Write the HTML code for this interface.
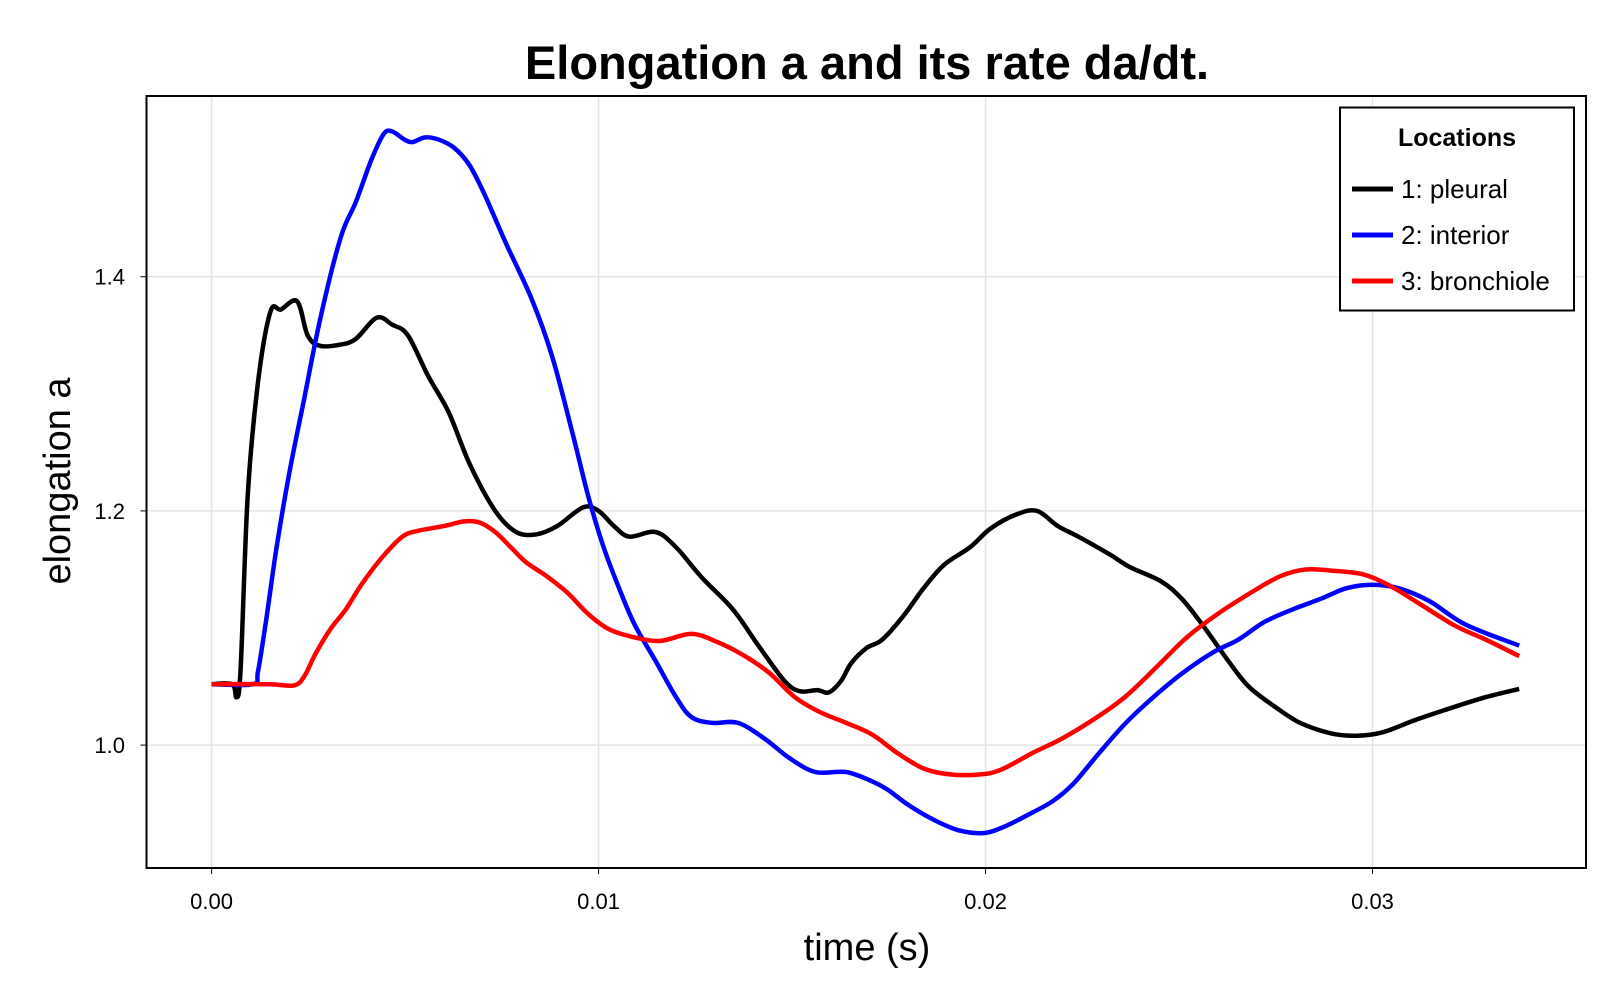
<!DOCTYPE html>
<html><head><meta charset="utf-8"><style>
html,body{margin:0;padding:0;background:#fff;}
svg{display:block;font-family:"Liberation Sans",sans-serif;}
</style></head><body>
<svg id="chart" width="1618" height="1000" viewBox="0 0 1618 1000">
<text x="867" y="79" text-anchor="middle" font-size="47" font-weight="bold">Elongation a and its rate da/dt.</text>
<g id="grid"></g>
<g id="axes"></g>
<g id="series"></g>
<rect x="146.5" y="96" width="1439.5" height="772" fill="none" stroke="#000" stroke-width="2"/>
<text x="70" y="481" text-anchor="middle" font-size="38" transform="rotate(-90 70 481)">elongation a</text>
<text x="867" y="960" text-anchor="middle" font-size="38">time (s)</text>
<g>
<rect x="1340" y="107.5" width="234" height="203" fill="#fff" stroke="#000" stroke-width="2"/>
<text x="1457" y="146" text-anchor="middle" font-size="25" font-weight="bold">Locations</text>
<g><line x1="1352" y1="189" x2="1393" y2="189" stroke="#000" stroke-width="5"/><text x="1401" y="198" font-size="26">1: pleural</text></g>
<g><line x1="1352" y1="235" x2="1393" y2="235" stroke="#0000ff" stroke-width="5"/><text x="1401" y="244" font-size="26">2: interior</text></g>
<g><line x1="1352" y1="281" x2="1393" y2="281" stroke="#ff0000" stroke-width="5"/><text x="1401" y="290" font-size="26">3: bronchiole</text></g>
</g>
</svg>
<script>
const xTicks=[0,0.01,0.02,0.03];
const xTickLabels=["0.00","0.01","0.02","0.03"];
const yTicks=[1.0,1.2,1.4];
const yTickLabels=["1.0","1.2","1.4"];
const pleuralT=[0,0.000533,0.00064,0.000747,0.000933,0.0012,0.00152,0.00179,0.00221,0.00248,0.0028,0.00333,0.00373,0.00427,0.00467,0.00507,0.0056,0.00613,0.00667,0.00733,0.00787,0.0084,0.00893,0.0096,0.01,0.0104,0.0108,0.01147,0.012,0.01267,0.01347,0.01413,0.0148,0.0152,0.01565,0.01595,0.01627,0.01653,0.01693,0.01733,0.01787,0.0184,0.01893,0.0196,0.02013,0.0208,0.02133,0.02187,0.0224,0.0232,0.02373,0.02453,0.02507,0.0256,0.02627,0.0268,0.02747,0.02813,0.02893,0.0296,0.03027,0.03107,0.03187,0.03293,0.03379];
const pleuralA=[1.052,1.052,1.041,1.063,1.213,1.31,1.37,1.372,1.379,1.35,1.341,1.342,1.347,1.365,1.359,1.35,1.315,1.284,1.24,1.2,1.182,1.18,1.187,1.203,1.2,1.187,1.178,1.182,1.169,1.143,1.116,1.085,1.055,1.046,1.047,1.045,1.055,1.07,1.083,1.09,1.11,1.134,1.154,1.169,1.185,1.197,1.2,1.187,1.178,1.163,1.152,1.14,1.125,1.103,1.072,1.05,1.033,1.019,1.01,1.008,1.011,1.021,1.03,1.041,1.048];
const interiorT=[0,0.00107,0.0012,0.00141,0.00168,0.002,0.0024,0.0028,0.00333,0.00373,0.00413,0.00445,0.00467,0.00499,0.0052,0.00552,0.00587,0.00627,0.00667,0.00707,0.0076,0.00827,0.0088,0.00933,0.00973,0.01013,0.01053,0.01093,0.01147,0.012,0.0124,0.01293,0.0136,0.01427,0.01493,0.0156,0.0164,0.01707,0.01747,0.018,0.01867,0.01933,0.02,0.02053,0.02107,0.02173,0.02227,0.02293,0.0236,0.02427,0.02507,0.02587,0.02653,0.0272,0.02787,0.02867,0.02933,0.03,0.03067,0.03147,0.0324,0.03379];
const interiorA=[1.052,1.052,1.063,1.107,1.169,1.231,1.297,1.363,1.433,1.464,1.5,1.522,1.524,1.517,1.515,1.519,1.517,1.51,1.495,1.469,1.429,1.381,1.332,1.266,1.213,1.169,1.134,1.103,1.072,1.041,1.024,1.019,1.019,1.006,0.989,0.977,0.977,0.969,0.962,0.949,0.936,0.927,0.925,0.931,0.94,0.952,0.967,0.993,1.018,1.039,1.061,1.079,1.09,1.105,1.115,1.125,1.134,1.137,1.134,1.123,1.103,1.085];
const bronchioleT=[0,0.00147,0.00213,0.0024,0.00267,0.00307,0.00347,0.00387,0.0044,0.00493,0.00533,0.006,0.00653,0.00693,0.00733,0.00773,0.00813,0.00867,0.0092,0.00973,0.01027,0.01093,0.0116,0.0124,0.01307,0.01373,0.0144,0.01507,0.01573,0.0164,0.01707,0.01773,0.0184,0.01907,0.01987,0.0204,0.0212,0.022,0.0228,0.0236,0.0244,0.0252,0.026,0.0268,0.0276,0.02827,0.02893,0.02973,0.0304,0.0312,0.03213,0.03293,0.03379];
const bronchioleA=[1.052,1.052,1.051,1.059,1.077,1.099,1.116,1.137,1.16,1.178,1.183,1.187,1.191,1.19,1.182,1.169,1.156,1.144,1.13,1.112,1.099,1.092,1.089,1.095,1.088,1.077,1.062,1.041,1.028,1.019,1.009,0.993,0.98,0.975,0.975,0.979,0.993,1.006,1.022,1.041,1.066,1.092,1.112,1.129,1.144,1.15,1.149,1.146,1.137,1.121,1.102,1.09,1.076];

const X0=211.6, XS=38697, Y0=745.1, YS=1171;
const FL=146.5, FR=1586, FT=96, FB=868;
function xs(t){return X0+t*XS;}
function ys(a){return Y0-(a-1.0)*YS;}
const NS="http://www.w3.org/2000/svg";
const grid=document.getElementById('grid'), axes=document.getElementById('axes'), ser=document.getElementById('series');
xTicks.forEach((t,i)=>{
  const l=document.createElementNS(NS,'line');
  l.setAttribute('x1',xs(t));l.setAttribute('x2',xs(t));l.setAttribute('y1',FT);l.setAttribute('y2',FB);
  l.setAttribute('stroke','#e3e3e3');l.setAttribute('stroke-width','1.5');
  
  
  grid.appendChild(l);
  const tk=document.createElementNS(NS,'line');
  tk.setAttribute('x1',xs(t));tk.setAttribute('x2',xs(t));tk.setAttribute('y1',FB);tk.setAttribute('y2',FB+6);
  tk.setAttribute('stroke','#000');tk.setAttribute('stroke-width','1');
  
  
  axes.appendChild(tk);
  const tx=document.createElementNS(NS,'text');
  tx.setAttribute('x',xs(t));tx.setAttribute('y',909);tx.setAttribute('text-anchor','middle');tx.setAttribute('font-size','22');
  tx.textContent=xTickLabels[i];
  
  
  axes.appendChild(tx);
});
yTicks.forEach((v,i)=>{
  const l=document.createElementNS(NS,'line');
  l.setAttribute('x1',FL);l.setAttribute('x2',FR);l.setAttribute('y1',ys(v));l.setAttribute('y2',ys(v));
  l.setAttribute('stroke','#e3e3e3');l.setAttribute('stroke-width','1.5');
  
  
  grid.appendChild(l);
  const tk=document.createElementNS(NS,'line');
  tk.setAttribute('x1',FL-6);tk.setAttribute('x2',FL);tk.setAttribute('y1',ys(v));tk.setAttribute('y2',ys(v));
  tk.setAttribute('stroke','#000');tk.setAttribute('stroke-width','1');
  
  
  axes.appendChild(tk);
  const tx=document.createElementNS(NS,'text');
  tx.setAttribute('x',125);tx.setAttribute('y',ys(v)+8);tx.setAttribute('text-anchor','end');tx.setAttribute('font-size','22');
  tx.textContent=yTickLabels[i];
  
  
  axes.appendChild(tx);
});
function smoothPath(T,A){
  const p=T.map((t,i)=>[xs(t),ys(A[i])]);
  let d='M'+p[0][0].toFixed(1)+','+p[0][1].toFixed(1);
  for(let i=0;i<p.length-1;i++){
    const p0=p[i-1]||p[i],p1=p[i],p2=p[i+1],p3=p[i+2]||p[i+1];
    const c1=[p1[0]+(p2[0]-p0[0])/6,p1[1]+(p2[1]-p0[1])/6];
    const c2=[p2[0]-(p3[0]-p1[0])/6,p2[1]-(p3[1]-p1[1])/6];
    d+=' C'+c1[0].toFixed(1)+','+c1[1].toFixed(1)+' '+c2[0].toFixed(1)+','+c2[1].toFixed(1)+' '+p2[0].toFixed(1)+','+p2[1].toFixed(1);
  }
  return d;
}
function addSeries(T,A,color,name){
  const path=document.createElementNS(NS,'path');
  path.setAttribute('d',smoothPath(T,A));
  path.setAttribute('fill','none');path.setAttribute('stroke',color);path.setAttribute('stroke-width','4.5');
  path.setAttribute('stroke-linejoin','round');path.setAttribute('stroke-linecap','butt');
  
  
  ser.appendChild(path);
}
addSeries(pleuralT,pleuralA,'#000000','line-pleural');
addSeries(interiorT,interiorA,'#0000ff','line-interior');
addSeries(bronchioleT,bronchioleA,'#ff0000','line-bronchiole');
</script>
</body></html>
